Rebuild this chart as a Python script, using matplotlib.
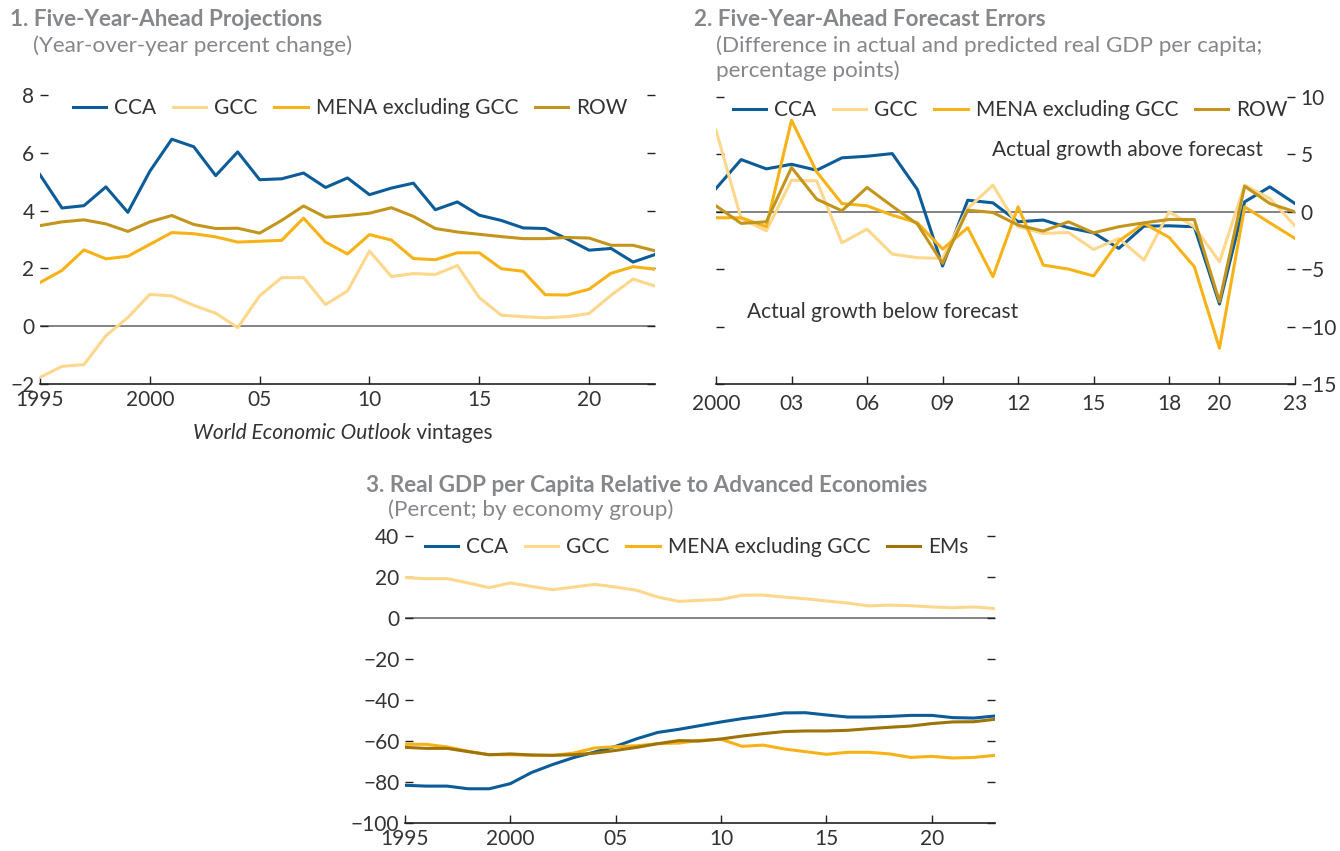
import matplotlib
matplotlib.use("Agg")
import matplotlib.pyplot as plt
import numpy as np

plt.rcParams['font.family'] = ['Lato', 'DejaVu Sans']

# ---------------- Data ----------------
years1 = list(range(1995, 2024))
p1_cca = [5.24, 4.09, 4.17, 4.82, 3.94, 5.36, 6.47, 6.21, 5.21, 6.03, 5.07, 5.10, 5.30, 4.80,
          5.13, 4.55, 4.78, 4.95, 4.03, 4.30, 3.84, 3.66, 3.40, 3.38, 3.02, 2.63, 2.69, 2.22, 2.48]
p1_gcc = [-1.77, -1.39, -1.33, -0.33, 0.30, 1.10, 1.05, 0.72, 0.45, -0.05, 1.05, 1.68, 1.68, 0.75,
          1.22, 2.60, 1.72, 1.82, 1.79, 2.10, 0.99, 0.38, 0.33, 0.29, 0.33, 0.44, 1.07, 1.63, 1.39]
p1_mena = [1.51, 1.93, 2.64, 2.33, 2.42, 2.83, 3.24, 3.20, 3.09, 2.91, 2.94, 2.97, 3.74, 2.91,
           2.50, 3.17, 2.98, 2.34, 2.30, 2.54, 2.54, 1.99, 1.90, 1.09, 1.08, 1.28, 1.83, 2.06, 1.97]
p1_row = [3.48, 3.61, 3.68, 3.54, 3.28, 3.61, 3.83, 3.52, 3.38, 3.39, 3.22, 3.66, 4.16, 3.77,
          3.83, 3.91, 4.10, 3.80, 3.38, 3.26, 3.18, 3.10, 3.03, 3.03, 3.07, 3.05, 2.80, 2.80, 2.61]

years2 = list(range(2000, 2024))
p2_cca = [2.03, 4.55, 3.74, 4.14, 3.62, 4.70, 4.84, 5.07, 1.94, -4.72, 1.01, 0.78,
          -0.87, -0.72, -1.39, -1.83, -3.19, -1.25, -1.22, -1.30, -8.03, 0.87, 2.17, 0.72]
p2_gcc = [7.10, -0.60, -1.65, 2.75, 2.70, -2.70, -1.51, -3.68, -4.00, -4.06, 0.29, 2.32,
          -1.30, -1.88, -1.80, -3.28, -2.32, -4.20, 0.00, -1.30, -4.35, 2.32, 1.16, -1.22]
p2_mena = [-0.52, -0.52, -1.30, 7.97, 3.48, 0.72, 0.52, -0.29, -0.96, -3.25, -1.39, -5.65,
           0.43, -4.64, -4.99, -5.59, -2.55, -1.01, -2.23, -4.78, -11.88, 0.43, -0.96, -2.32]
p2_row = [0.52, -1.01, -0.87, 3.86, 1.10, 0.09, 2.12, 0.49, -1.07, -4.49, 0.14, -0.06,
          -1.16, -1.68, -0.87, -1.83, -1.30, -0.96, -0.67, -0.67, -7.83, 2.23, 0.72, 0.00]

years3 = list(range(1995, 2024))
p3_cca = [-81.6, -82.0, -82.0, -83.3, -83.3, -80.8, -75.4, -71.5, -68.1, -65.4, -62.6, -58.9, -55.8, -54.3,
          -52.5, -50.7, -49.1, -47.8, -46.3, -46.2, -47.3, -48.3, -48.3, -48.0, -47.5, -47.5, -48.6, -48.8, -47.8]
p3_gcc = [19.7, 19.2, 19.2, 17.1, 14.8, 17.1, 15.4, 13.8, 15.1, 16.4, 15.1, 13.5, 10.2, 8.1,
          8.6, 9.1, 11.1, 11.2, 10.2, 9.4, 8.3, 7.3, 5.9, 6.3, 6.0, 5.4, 5.0, 5.4, 4.6]
p3_mena = [-61.6, -61.6, -62.9, -65.0, -66.7, -66.7, -67.0, -67.0, -65.9, -63.4, -62.8, -62.3, -61.3, -61.0,
           -59.7, -59.2, -62.6, -62.0, -63.9, -65.2, -66.5, -65.5, -65.5, -66.3, -68.0, -67.5, -68.3, -68.0, -67.0]
p3_ems = [-63.1, -63.6, -63.6, -65.2, -66.7, -66.3, -66.8, -67.0, -66.7, -65.9, -64.6, -63.1, -61.3, -59.8,
          -60.0, -59.0, -57.6, -56.4, -55.4, -55.1, -55.1, -54.8, -54.0, -53.3, -52.7, -51.5, -50.7, -50.6, -49.4]

ticks1 = [1995, 2000, 2005, 2010, 2015, 2020]
ticklabels1 = ["1995", "2000", "05", "10", "15", "20"]
ticks2 = [2000, 2003, 2006, 2009, 2012, 2015, 2018, 2020, 2023]
ticklabels2 = ["2000", "03", "06", "09", "12", "15", "18", "20", "23"]

# ---------------- Style ----------------
C_CCA = "#0b5c99"
C_GCC = "#fdd78c"
C_MENA = "#f7b217"
C_ROW = "#c3951c"
C_EMS = "#9e7409"
TXT = "#333333"
TITLE = "#85878a"
ZERO = "#7a7a7a"
LW = 2.2
FS = 15
TFS = 16.2

fig = plt.figure(figsize=(13.4, 8.51), dpi=100)

def style_axes(ax, ylim, yticks, label_side="left", xpad=4):
    ax.set_ylim(*ylim)
    ax.set_yticks(yticks)
    for s in ["top", "left", "right"]:
        ax.spines[s].set_visible(False)
    ax.spines["bottom"].set_color("#222222")
    ax.spines["bottom"].set_linewidth(1.2)
    ax.tick_params(axis="x", direction="in", length=6, width=1.0, color="#222222",
                   labelsize=FS, labelcolor=TXT, pad=xpad)
    ax.tick_params(axis="y", direction="in", length=6, width=1.0, color="#222222",
                   labelsize=FS, labelcolor=TXT, left=True, right=True,
                   labelleft=(label_side == "left"), labelright=(label_side == "right"), pad=4)
    ax.axhline(0, color=ZERO, lw=1.3, zorder=1)
    ax.set_facecolor("none")

LEG = dict(ncol=4, frameon=False, fontsize=FS, handlelength=1.6, handletextpad=0.38,
           columnspacing=0.8, labelcolor=TXT, borderaxespad=0.0, borderpad=0.0)

# Panel 1
ax1 = fig.add_axes([40/1340, 1-384/851, 615/1340, 289/851])
ax1.plot(years1, p1_cca, color=C_CCA, lw=LW, label="CCA", zorder=3)
ax1.plot(years1, p1_gcc, color=C_GCC, lw=LW, label="GCC", zorder=3)
ax1.plot(years1, p1_mena, color=C_MENA, lw=LW, label="MENA excluding GCC", zorder=3)
ax1.plot(years1, p1_row, color=C_ROW, lw=LW, label="ROW", zorder=3)
ax1.set_xlim(1995, 2023)
ax1.set_xticks(ticks1)
ax1.set_xticklabels(ticklabels1)
style_axes(ax1, (-2, 8), [-2, 0, 2, 4, 6, 8], "left")
ax1.legend(loc="upper left", bbox_to_anchor=(33/615, 0.99), **LEG)
t1 = ax1.text((193-40)/615, -0.17, "World Economic Outlook", transform=ax1.transAxes, style="italic",
              fontsize=FS, color=TXT, ha="left", va="center")
ax1.annotate(" vintages", xy=(1, 0), xycoords=t1, va="bottom", ha="left", fontsize=FS, color=TXT)

# Panel 2
ax2 = fig.add_axes([716/1340, 1-384/851, 579/1340, 287/851])
ax2.plot(years2, p2_cca, color=C_CCA, lw=LW, label="CCA", zorder=3)
ax2.plot(years2, p2_gcc, color=C_GCC, lw=LW, label="GCC", zorder=3)
ax2.plot(years2, p2_mena, color=C_MENA, lw=LW, label="MENA excluding GCC", zorder=3)
ax2.plot(years2, p2_row, color=C_ROW, lw=LW, label="ROW", zorder=3)
ax2.set_xlim(2000, 2023)
ax2.set_xticks(ticks2)
ax2.set_xticklabels(ticklabels2)
style_axes(ax2, (-15, 10), [-15, -10, -5, 0, 5, 10], "right", xpad=7)
ax2.legend(loc="upper left", bbox_to_anchor=(17/579, 0.99), **LEG)
ax2.text(2016.35, 5.37, "Actual growth above forecast", fontsize=FS, color=TXT, ha="center", va="center")
ax2.text(2006.63, -8.72, "Actual growth below forecast", fontsize=FS, color=TXT, ha="center", va="center")

# Panel 3
ax3 = fig.add_axes([405/1340, 1-823/851, 590/1340, 287/851])
ax3.plot(years3, p3_cca, color=C_CCA, lw=LW, label="CCA", zorder=3)
ax3.plot(years3, p3_gcc, color=C_GCC, lw=LW, label="GCC", zorder=3)
ax3.plot(years3, p3_mena, color=C_MENA, lw=LW, label="MENA excluding GCC", zorder=3)
ax3.plot(years3, p3_ems, color=C_EMS, lw=LW, label="EMs", zorder=3)
ax3.set_xlim(1995, 2023)
ax3.set_xticks(ticks1)
ax3.set_xticklabels(ticklabels1)
style_axes(ax3, (-100, 40), [-100, -80, -60, -40, -20, 0, 20, 40], "left")
ax3.legend(loc="upper left", bbox_to_anchor=(20/590, 0.995), **LEG)

# Titles
fig.text(10/1340, 1-20/851, "1. Five-Year-Ahead Projections", fontsize=TFS, fontweight="bold",
         color=TITLE, ha="left", va="center")
fig.text(33/1340, 1-46/851, "(Year-over-year percent change)", fontsize=TFS, color=TITLE,
         ha="left", va="center")
fig.text(694/1340, 1-20/851, "2. Five-Year-Ahead Forecast Errors", fontsize=TFS, fontweight="bold",
         color=TITLE, ha="left", va="center")
fig.text(716/1340, 1-46/851, "(Difference in actual and predicted real GDP per capita;",
         fontsize=TFS, color=TITLE, ha="left", va="center")
fig.text(716/1340, 1-71/851, "percentage points)",
         fontsize=TFS, color=TITLE, ha="left", va="center")
fig.text(366/1340, 1-486/851, "3. Real GDP per Capita Relative to Advanced Economies", fontsize=TFS,
         fontweight="bold", color=TITLE, ha="left", va="center")
fig.text(388/1340, 1-510/851, "(Percent; by economy group)", fontsize=TFS, color=TITLE,
         ha="left", va="center")

fig.savefig("out.png", dpi=100, facecolor="white")
